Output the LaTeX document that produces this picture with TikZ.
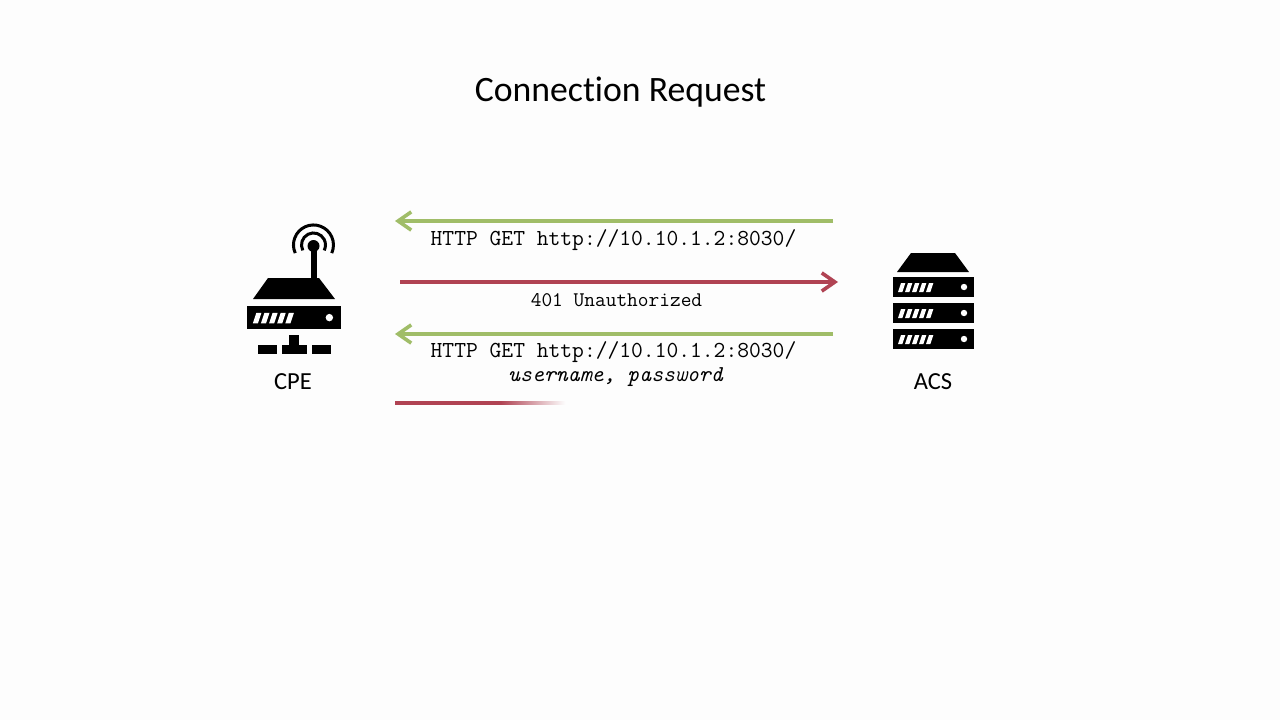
\documentclass[tikz,border=0pt]{standalone}
\usepackage{fontspec}
\setmainfont{Carlito}[Ligatures=NoCommon]
\usepackage{xcolor}
\usetikzlibrary{arrows.meta,calc,positioning}
\definecolor{paper}{HTML}{FDFDFD}
\definecolor{ink}{HTML}{000000}
\definecolor{reqgreen}{HTML}{A0BD68}
\definecolor{respred}{HTML}{B04353}
\pgfdeclarehorizontalshading{fadebar}{100bp}{color(0bp)=(respred); color(56bp)=(respred); color(75bp)=(paper); color(100bp)=(paper)}
\tikzset{
  x=1pt, y=-1pt,
  titletext/.style={font=\fontsize{35.7}{42}\selectfont, inner sep=0pt},
  devicetext/.style={font=\fontsize{24.5}{28}\selectfont, inner sep=0pt},
  msgtext/.style={font=\ttfamily\fontsize{22.9}{26}\selectfont, inner sep=0pt},
  smallmsgtext/.style={font=\ttfamily\fontsize{20.8}{24}\selectfont, inner sep=0pt},
  credtext/.style={font=\ttfamily\itshape\fontsize{22.7}{26}\selectfont, inner sep=0pt},
  request/.style={-{Straight Barb[length=4.6mm,width=6.4mm,line width=3.6pt]}, draw=reqgreen, line width=3.8pt},
  response/.style={-{Straight Barb[length=4.6mm,width=6.4mm,line width=3.6pt]}, draw=respred, line width=3.8pt},
  fadeline/.style={shading=fadebar, minimum width=170pt, minimum height=3.8pt, inner sep=0pt, anchor=west},
  rackunit/.pic={
    \fill[ink] (0,0) rectangle (81,20);
    \foreach \slant in {0,7,14,21,28} {
      \fill[white] ($(5,15)+(\slant,0)$) -- ++(3,-9) -- ++(4.4,0) -- ++(-3,9) -- cycle;
    }
    \fill[white] (71,10) circle (3.2);
  }
}

\begin{document}
\begin{tikzpicture}
  \useasboundingbox (0,0) rectangle (1280,720);
  \fill[paper] (0,0) rectangle (1280,720);

  \node[titletext] (title) at (620.5,92) {Connection Request};

  % message rows
  \coordinate (getfromA) at (833,221);
  \coordinate (gettoA) at (395,221);
  \coordinate (denyfrom) at (400,282);
  \coordinate (denyto) at (838,282);
  \coordinate (getfromB) at (833,334);
  \coordinate (gettoB) at (395,334);
  \draw[request] (getfromA) -- (gettoA);
  \draw[response] (denyfrom) -- (denyto);
  \draw[request] (getfromB) -- (gettoB);
  \node[msgtext] (getA) at (613.5,240) {HTTP GET http://10.10.1.2:8030/};
  \node[smallmsgtext] (deny) at (616.5,300) {401 Unauthorized};
  \node[msgtext] (getB) at (613.5,352) {HTTP GET http://10.10.1.2:8030/};
  \node[credtext] (creds) at (615.5,377) {username, password};
  \node[fadeline] (reply) at (395,403) {};

  % CPE icon
  \fill[ink] (313.5,246) circle (6);
  \fill[ink] (310.5,246) rectangle (316.5,280);
  \draw[ink, line width=3pt] (302.8,250.4) arc (153:387:12);
  \draw[ink, line width=3pt] (295.2,253.1) arc (156:384:20);
  \fill[ink] (268,278) -- (319,278) -- (335,299) -- (253,299) -- cycle;
  \pic[scale=1.16] at (247,306) {rackunit};
  \fill[ink] (258,345) rectangle (277,354);
  \fill[ink] (282,345) rectangle (307,354);
  \fill[ink] (289,335) rectangle (299,346);
  \fill[ink] (312,345) rectangle (331,354);
  \node[devicetext] (cpe) at (293,382) {CPE};

  % ACS icon
  \fill[ink] (911,253) -- (955,253) -- (969,272) -- (897,272) -- cycle;
  \foreach \rowy in {277,303,329} {
    \pic at (893,\rowy) {rackunit};
  }
  \node[devicetext] (acs) at (933,382) {ACS};
\end{tikzpicture}
\end{document}
